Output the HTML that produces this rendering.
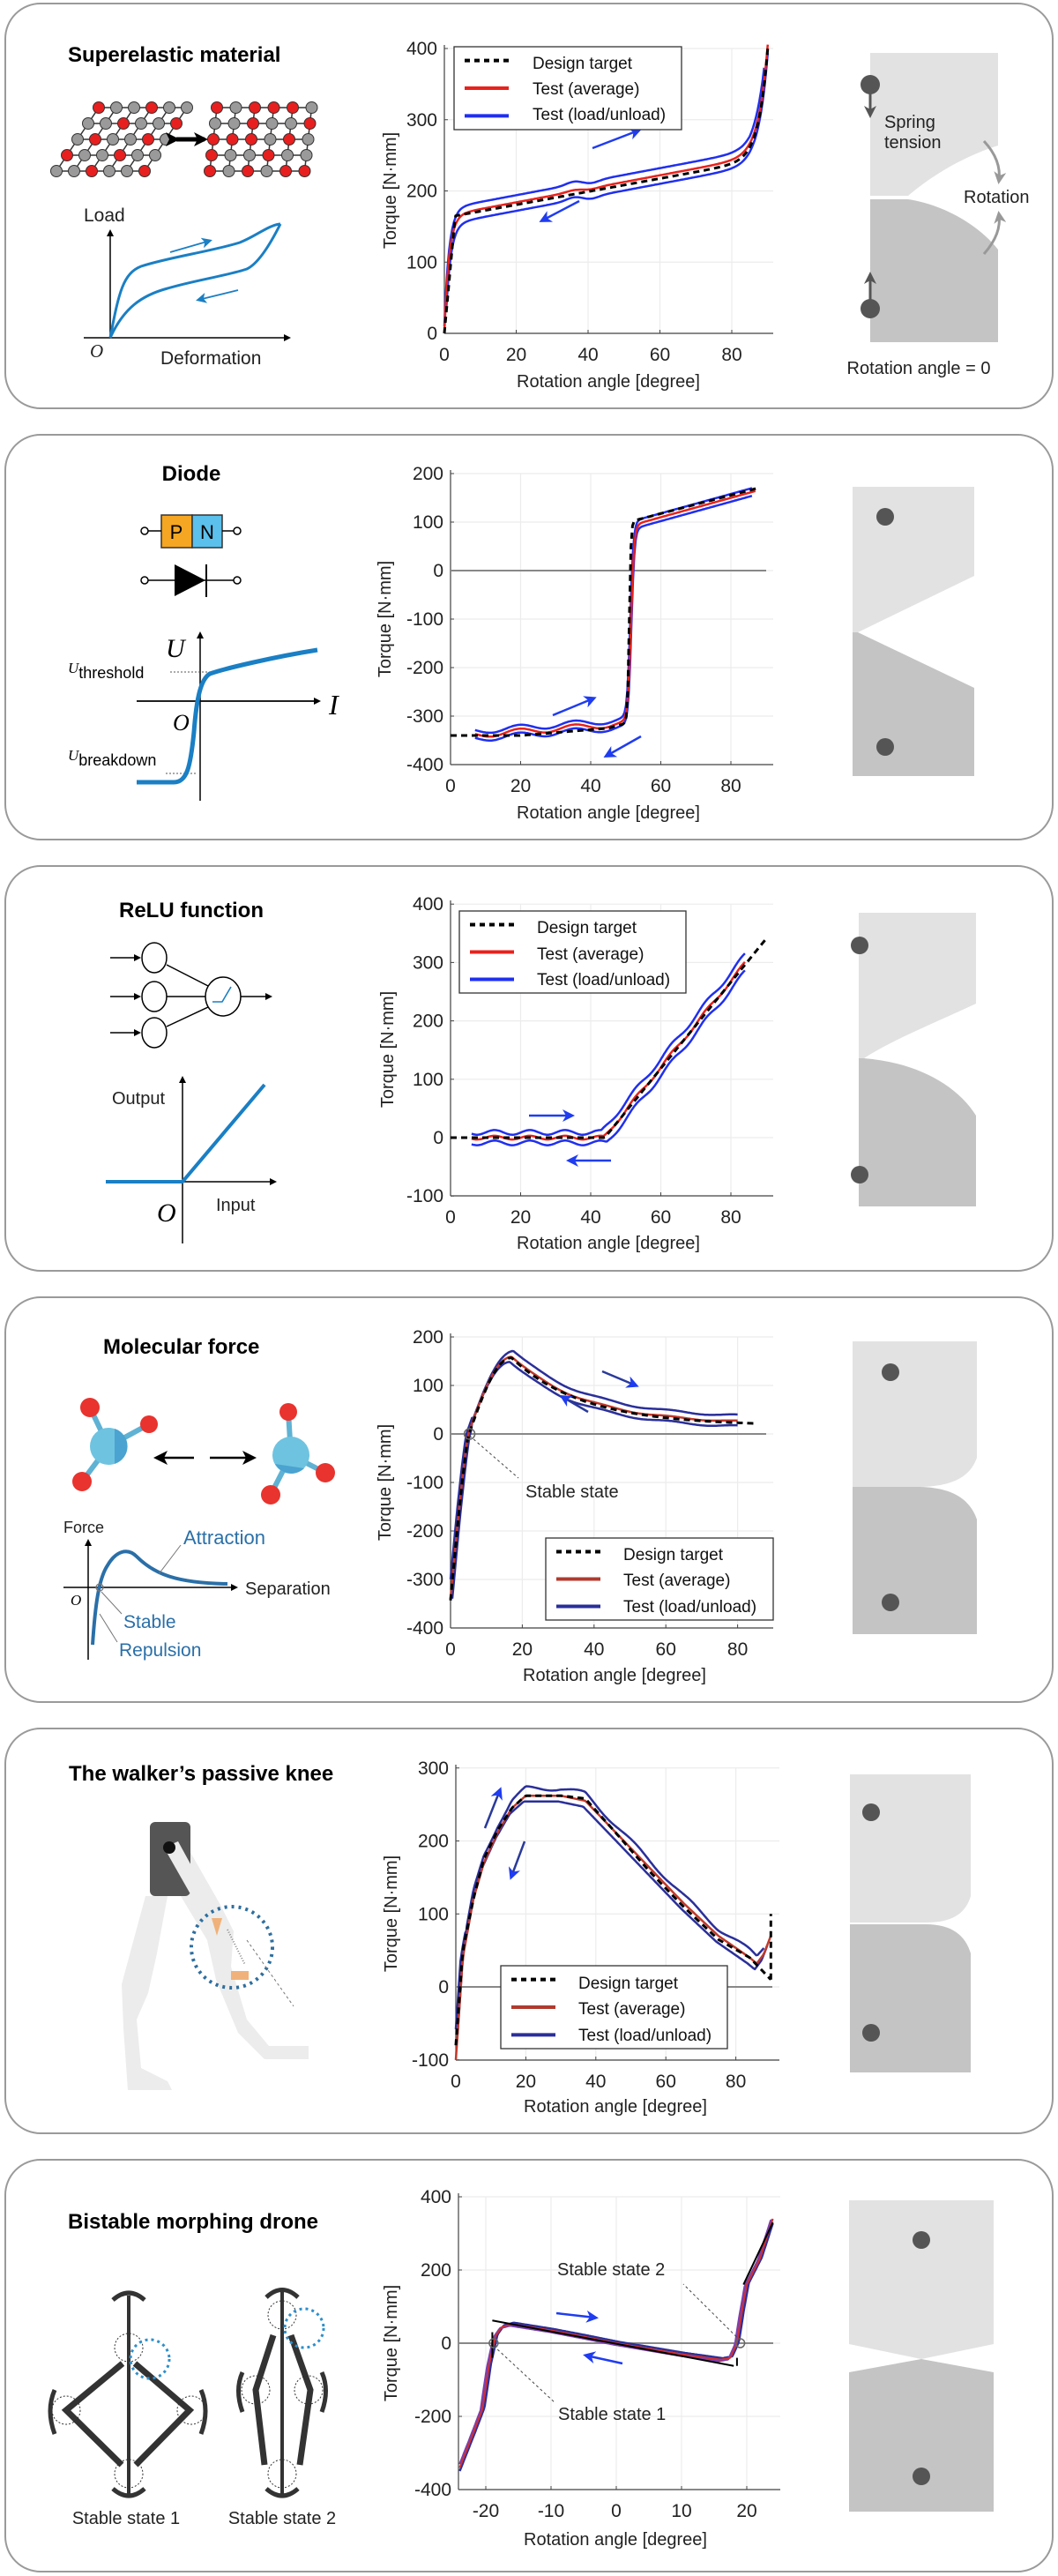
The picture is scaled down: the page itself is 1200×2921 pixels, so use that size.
<!DOCTYPE html>
<html><head><meta charset="utf-8">
<style>
html,body{margin:0;padding:0;background:#fff;}
svg{display:block;}
text{font-family:"Liberation Sans",Arial,sans-serif;}
.t{font-weight:bold;font-size:24px;fill:#000;}
.tk{font-size:21px;fill:#222;}
.lb{font-size:20px;fill:#222;}
.lg{font-size:19px;fill:#111;}
.grid line{stroke:#ececec;stroke-width:1.2;}
</style></head><body>
<svg id="s" width="1200" height="2921" viewBox="0 0 1200 2921" xmlns="http://www.w3.org/2000/svg">
<defs>
<marker id="ab" markerWidth="8" markerHeight="8" refX="6" refY="4" orient="auto" markerUnits="userSpaceOnUse"><path d="M0,0 L8,4 L0,8 Z" fill="#000"/></marker>
<marker id="abl" markerWidth="14" markerHeight="14" refX="10" refY="7" orient="auto" markerUnits="userSpaceOnUse"><path d="M0,0 L14,7 L0,14 L4,7 Z" fill="#1f3cf0"/></marker>
<marker id="ag" markerWidth="14" markerHeight="14" refX="10" refY="7" orient="auto" markerUnits="userSpaceOnUse"><path d="M0,0 L14,7 L0,14 L4,7 Z" fill="#999"/></marker>
<marker id="ad" markerWidth="14" markerHeight="14" refX="10" refY="7" orient="auto" markerUnits="userSpaceOnUse"><path d="M0,0 L14,7 L0,14 L4,7 Z" fill="#555"/></marker>
<marker id="ak" markerWidth="16" markerHeight="16" refX="12" refY="8" orient="auto" markerUnits="userSpaceOnUse"><path d="M0,0 L16,8 L0,16 L4,8 Z" fill="#000"/></marker>
<marker id="abu" markerWidth="12" markerHeight="12" refX="9" refY="6" orient="auto" markerUnits="userSpaceOnUse"><path d="M0,0 L12,6 L0,12 L3,6 Z" fill="#1a7fc4"/></marker>
</defs>

<g fill="#fff" stroke="#9a9a9a" stroke-width="2">
<rect x="6" y="4" width="1188" height="459" rx="40"/>
<rect x="6" y="493" width="1188" height="459" rx="40"/>
<rect x="6" y="982" width="1188" height="459" rx="40"/>
<rect x="6" y="1471" width="1188" height="459" rx="40"/>
<rect x="6" y="1960" width="1188" height="459" rx="40"/>
<rect x="6" y="2449" width="1188" height="467" rx="40"/>
</g>

<!-- P1 right -->
<path d="M987,60 H1132 V165 C1085,180 1050,205 1030,222 H987 Z" fill="#e2e2e2"/>
<path d="M987,226 H1030 C1070,232 1110,255 1132,283 V388 H987 Z" fill="#c4c4c4"/>
<circle cx="987" cy="96" r="11" fill="#555"/><line x1="987" y1="96" x2="987" y2="130" stroke="#555" stroke-width="3" marker-end="url(#ad)"/>
<circle cx="987" cy="350" r="11" fill="#555"/><line x1="987" y1="350" x2="987" y2="312" stroke="#555" stroke-width="3" marker-end="url(#ad)"/>
<text x="1003" y="145" class="lb">Spring</text>
<text x="1003" y="168" class="lb">tension</text>
<text x="1093" y="230" class="lb">Rotation</text>
<path d="M1116,160 C1130,175 1135,190 1133,205" fill="none" stroke="#999" stroke-width="3" marker-end="url(#ag)"/>
<path d="M1116,288 C1130,272 1135,258 1133,243" fill="none" stroke="#999" stroke-width="3" marker-end="url(#ag)"/>
<text x="1042" y="424" class="lb" text-anchor="middle">Rotation angle = 0</text>

<!-- P2 -->
<path d="M967,552 H1105 V653 L973,717 H967 Z" fill="#e2e2e2"/>
<path d="M967,717 H973 L1105,780 V880 H967 Z" fill="#c4c4c4"/>
<circle cx="1004" cy="586" r="10" fill="#555"/><circle cx="1004" cy="847" r="10" fill="#555"/>

<!-- P3 -->
<path d="M974,1035 H1107 V1138 C1060,1160 1010,1180 980,1200 H974 Z" fill="#e2e2e2"/>
<path d="M974,1200 H980 C1040,1205 1085,1230 1107,1265 V1368 H974 Z" fill="#c4c4c4"/>
<circle cx="975" cy="1072" r="10" fill="#555"/><circle cx="975" cy="1332" r="10" fill="#555"/>

<!-- P4 -->
<path d="M967,1521 H1108 V1653 C1100,1675 1080,1686 1040,1686 H967 Z" fill="#e2e2e2"/>
<path d="M967,1686 H1040 C1080,1686 1100,1700 1108,1723 V1853 H967 Z" fill="#c4c4c4"/>
<circle cx="1010" cy="1556" r="10" fill="#555"/><circle cx="1010" cy="1817" r="10" fill="#555"/>

<!-- P5 -->
<path d="M964,2012 H1101 V2150 C1095,2170 1080,2180 1050,2180 H964 Z" fill="#e2e2e2"/>
<path d="M964,2182 H1050 C1080,2182 1095,2195 1101,2215 V2350 H964 Z" fill="#c4c4c4"/>
<circle cx="988" cy="2055" r="10" fill="#555"/><circle cx="988" cy="2305" r="10" fill="#555"/>

<!-- P6 -->
<path d="M963,2495 H1127 V2658 L1045,2675 L963,2658 Z" fill="#e2e2e2"/>
<path d="M963,2690 L1045,2675 L1127,2690 V2848 H963 Z" fill="#c4c4c4"/>
<circle cx="1045" cy="2540" r="10" fill="#555"/><circle cx="1045" cy="2808" r="10" fill="#555"/>

<!-- P1 left -->
<text x="77" y="70" class="t">Superelastic material</text>
<g id="lat"></g>
<path d="M200,158 H232" stroke="#000" stroke-width="5" marker-end="url(#ak)" marker-start="url(#ak)"/>
<line x1="125" y1="383" x2="125" y2="262" stroke="#000" stroke-width="1.5" marker-end="url(#ab)"/>
<line x1="95" y1="383" x2="328" y2="383" stroke="#000" stroke-width="1.5" marker-end="url(#ab)"/>
<text x="95" y="251" class="lb" style="font-size:21px">Load</text>
<text x="102" y="405" class="lb" style="font-style:italic;font-family:'Liberation Serif',serif;font-size:21px">O</text>
<text x="182" y="413" class="lb" style="font-size:21px">Deformation</text>
<path d="M125,383 C135,330 140,310 160,302 C190,292 240,285 272,275 C290,268 305,255 318,254" fill="none" stroke="#1a7fc4" stroke-width="3"/>
<path d="M125,383 C140,350 160,335 190,327 C220,318 260,312 280,305 C295,298 310,270 318,254" fill="none" stroke="#1a7fc4" stroke-width="3"/>
<line x1="193" y1="286" x2="238" y2="273" stroke="#1a7fc4" stroke-width="1.8" marker-end="url(#abu)"/>
<line x1="270" y1="329" x2="225" y2="340" stroke="#1a7fc4" stroke-width="1.8" marker-end="url(#abu)"/>

<!-- P2 left -->
<text x="217" y="545" class="t" text-anchor="middle">Diode</text>
<rect x="183" y="584" width="35" height="37" fill="#f5a623" stroke="#333" stroke-width="1.5"/>
<rect x="218" y="584" width="34" height="37" fill="#5bc0eb" stroke="#333" stroke-width="1.5"/>
<text x="200" y="611" text-anchor="middle" style="font-size:22px">P</text>
<text x="235" y="611" text-anchor="middle" style="font-size:22px">N</text>
<line x1="167" y1="602" x2="183" y2="602" stroke="#000" stroke-width="1.5"/><line x1="252" y1="602" x2="265" y2="602" stroke="#000" stroke-width="1.5"/>
<circle cx="164" cy="602" r="4" fill="#fff" stroke="#000" stroke-width="1.5"/><circle cx="269" cy="602" r="4" fill="#fff" stroke="#000" stroke-width="1.5"/>
<line x1="167" y1="658" x2="265" y2="658" stroke="#000" stroke-width="1.5"/>
<path d="M198,640 L233,658 L198,676 Z" fill="#000"/><line x1="234" y1="640" x2="234" y2="677" stroke="#000" stroke-width="2"/>
<circle cx="164" cy="658" r="4" fill="#fff" stroke="#000" stroke-width="1.5"/><circle cx="269" cy="658" r="4" fill="#fff" stroke="#000" stroke-width="1.5"/>
<line x1="227" y1="908" x2="227" y2="718" stroke="#000" stroke-width="1.5" marker-end="url(#ab)"/>
<line x1="155" y1="795" x2="362" y2="795" stroke="#000" stroke-width="1.8" marker-end="url(#ab)"/>
<text x="188" y="745" style="font-family:'Liberation Serif',serif;font-style:italic;font-size:30px">U</text>
<text x="373" y="810" style="font-family:'Liberation Serif',serif;font-style:italic;font-size:32px">I</text>
<text x="196" y="828" style="font-family:'Liberation Serif',serif;font-style:italic;font-size:26px">O</text>
<text x="77" y="763" style="font-family:'Liberation Serif',serif;font-style:italic;font-size:17px">U<tspan style="font-family:'Liberation Sans',sans-serif;font-style:normal;font-size:18px" dy="6">threshold</tspan></text>
<text x="77" y="862" style="font-family:'Liberation Serif',serif;font-style:italic;font-size:17px">U<tspan style="font-family:'Liberation Sans',sans-serif;font-style:normal;font-size:18px" dy="6">breakdown</tspan></text>
<line x1="193" y1="762" x2="240" y2="762" stroke="#555" stroke-dasharray="2,2"/>
<line x1="188" y1="877" x2="222" y2="877" stroke="#555" stroke-dasharray="2,2"/>
<path d="M155,887 H197 C212,887 216,870 220,830 C223,790 228,770 238,764 C255,758 310,745 360,737" fill="none" stroke="#1a7fc4" stroke-width="5"/>

<!-- P3 left -->
<text x="217" y="1040" class="t" text-anchor="middle">ReLU function</text>
<g fill="#fff" stroke="#000" stroke-width="1.5">
<ellipse cx="175" cy="1086" rx="14" ry="17"/><ellipse cx="175" cy="1130" rx="14" ry="17"/><ellipse cx="175" cy="1171" rx="14" ry="17"/>
<ellipse cx="253" cy="1130" rx="20" ry="22"/>
</g>
<g stroke="#000" stroke-width="1.5">
<line x1="189" y1="1094" x2="236" y2="1118"/><line x1="189" y1="1130" x2="233" y2="1130"/><line x1="189" y1="1164" x2="236" y2="1142"/>
<line x1="125" y1="1086" x2="158" y2="1086" marker-end="url(#ab)"/><line x1="125" y1="1130" x2="158" y2="1130" marker-end="url(#ab)"/><line x1="125" y1="1171" x2="158" y2="1171" marker-end="url(#ab)"/>
<line x1="273" y1="1130" x2="307" y2="1130" marker-end="url(#ab)"/>
</g>
<path d="M241,1136 H252 L262,1119" fill="none" stroke="#1a7fc4" stroke-width="1.6"/>
<line x1="207" y1="1410" x2="207" y2="1222" stroke="#000" stroke-width="1.5" marker-end="url(#ab)"/>
<line x1="120" y1="1340" x2="312" y2="1340" stroke="#000" stroke-width="1.5" marker-end="url(#ab)"/>
<path d="M120,1340 H207 L300,1230" fill="none" stroke="#1a7fc4" stroke-width="4"/>
<text x="127" y="1252" class="lb">Output</text>
<text x="178" y="1385" style="font-family:'Liberation Serif',serif;font-style:italic;font-size:30px">O</text>
<text x="245" y="1373" class="lb">Input</text>

<!-- P4 left -->
<text x="117" y="1535" class="t">Molecular force</text>
<g stroke="#5fb2d3" stroke-width="6"><line x1="123" y1="1640" x2="102" y2="1596"/><line x1="123" y1="1640" x2="169" y2="1615"/><line x1="123" y1="1640" x2="93" y2="1680"/>
<line x1="330" y1="1650" x2="327" y2="1601"/><line x1="330" y1="1650" x2="369" y2="1670"/><line x1="330" y1="1650" x2="307" y2="1695"/></g>
<circle cx="123" cy="1640" r="21" fill="#6ec3e0"/><circle cx="330" cy="1650" r="21" fill="#6ec3e0"/>
<path d="M130,1620 A21,21 0 0 1 130,1660 Z" fill="#4aa3d0"/><path d="M312,1660 A21,21 0 0 0 345,1665 Z" fill="#4aa3d0"/>
<g fill="#e8332e"><circle cx="102" cy="1596" r="11"/><circle cx="169" cy="1615" r="10"/><circle cx="93" cy="1680" r="11"/><circle cx="327" cy="1601" r="10"/><circle cx="369" cy="1670" r="11"/><circle cx="307" cy="1695" r="11"/></g>
<line x1="220" y1="1653" x2="178" y2="1653" stroke="#000" stroke-width="2.5" marker-end="url(#ak)"/>
<line x1="238" y1="1653" x2="287" y2="1653" stroke="#000" stroke-width="2.5" marker-end="url(#ak)"/>
<line x1="100" y1="1882" x2="100" y2="1747" stroke="#000" stroke-width="1.5" marker-end="url(#ab)"/>
<line x1="72" y1="1800" x2="268" y2="1800" stroke="#000" stroke-width="1.5" marker-end="url(#ab)"/>
<path d="M105,1865 C108,1820 112,1790 122,1775 C132,1758 145,1755 155,1765 C175,1785 200,1795 258,1796" fill="none" stroke="#2a6fa8" stroke-width="4"/>
<circle cx="113" cy="1800" r="4" fill="none" stroke="#777" stroke-width="1.3"/>
<line x1="180" y1="1785" x2="205" y2="1752" stroke="#777" stroke-width="1"/>
<line x1="115" y1="1805" x2="138" y2="1830" stroke="#777" stroke-width="1"/>
<line x1="113" y1="1830" x2="133" y2="1862" stroke="#777" stroke-width="1"/>
<text x="72" y="1738" class="lb" style="font-size:18px">Force</text>
<text x="208" y="1751" style="font-size:22px;fill:#2a6fa8">Attraction</text>
<text x="278" y="1808" class="lb">Separation</text>
<text x="140" y="1846" style="font-size:21px;fill:#2a6fa8">Stable</text>
<text x="135" y="1878" style="font-size:21px;fill:#2a6fa8">Repulsion</text>
<text x="80" y="1820" style="font-family:'Liberation Serif',serif;font-style:italic;font-size:17px">O</text>

<!-- P5 left -->
<text x="78" y="2019" class="t">The walker’s passive knee</text>
<g fill="#ececec">
<path d="M165,2150 L190,2150 L178,2215 L168,2260 L155,2290 L160,2345 L190,2360 L195,2370 L145,2370 L140,2300 L138,2250 Z"/>
<path d="M185,2100 L210,2090 L250,2160 L265,2190 L262,2230 L280,2290 L305,2320 L350,2320 L350,2335 L300,2335 L270,2305 L245,2245 L235,2200 L205,2150 Z"/>
</g>
<rect x="170" y="2066" width="46" height="84" rx="6" fill="#555"/>
<path d="M186,2095 L240,2190 L255,2185 L202,2088 Z" fill="#ececec"/>
<circle cx="192" cy="2095" r="7" fill="#111"/>
<circle cx="263" cy="2208" r="46" fill="none" stroke="#2e6e9e" stroke-width="4" stroke-dasharray="3,5"/>
<path d="M240,2175 l12,0 l-6,20 Z" fill="#f0b27a"/><path d="M262,2235 l20,0 l0,10 l-20,0 Z" fill="#f0b27a"/>
<line x1="258" y1="2188" x2="278" y2="2228" stroke="#888" stroke-width="2" stroke-dasharray="1,2"/>
<line x1="280" y1="2200" x2="333" y2="2275" stroke="#777" stroke-width="1" stroke-dasharray="3,3"/>

<!-- P6 left -->
<text x="77" y="2527" class="t">Bistable morphing drone</text>
<g stroke="#333" fill="none">
<line x1="146" y1="2603" x2="146" y2="2828" stroke-width="4"/>
<path d="M128,2608 Q146,2592 164,2608" stroke-width="5"/>
<path d="M128,2822 Q146,2838 164,2822" stroke-width="5"/>
<path d="M139,2680 L75,2733 L138,2795 M153,2680 L215,2733 L154,2795" stroke-width="7"/>
<path d="M62,2710 Q52,2733 62,2760 M228,2710 Q238,2733 228,2760" stroke-width="5"/>
<line x1="320" y1="2598" x2="320" y2="2828" stroke-width="4"/>
<path d="M302,2605 Q320,2588 338,2605" stroke-width="5"/>
<path d="M302,2822 Q320,2838 338,2822" stroke-width="5"/>
<path d="M310,2648 L290,2710 L300,2795 M330,2648 L352,2710 L340,2795" stroke-width="7"/>
<path d="M275,2690 Q266,2710 275,2735 M365,2690 Q374,2710 365,2735" stroke-width="5"/>
</g>
<g fill="none" stroke="#333" stroke-width="1" stroke-dasharray="2,2">
<circle cx="146" cy="2662" r="16"/><circle cx="146" cy="2805" r="16"/><circle cx="75" cy="2733" r="16"/><circle cx="217" cy="2733" r="16"/>
<circle cx="320" cy="2625" r="16"/><circle cx="320" cy="2805" r="16"/><circle cx="290" cy="2710" r="16"/><circle cx="350" cy="2710" r="16"/>
</g>
<circle cx="170" cy="2675" r="22" fill="none" stroke="#2e8fcb" stroke-width="3" stroke-dasharray="3,4"/>
<circle cx="345" cy="2640" r="22" fill="none" stroke="#2e8fcb" stroke-width="3" stroke-dasharray="3,4"/>
<text x="143" y="2862" class="lb" text-anchor="middle">Stable state 1</text>
<text x="320" y="2862" class="lb" text-anchor="middle">Stable state 2</text>

<g id="charts"></g>

<g class="lb">
<text transform="translate(449,216) rotate(-90)" text-anchor="middle">Torque [N·mm]</text>
<text x="690" y="439" text-anchor="middle">Rotation angle [degree]</text>
<text transform="translate(443,702) rotate(-90)" text-anchor="middle">Torque [N·mm]</text>
<text x="690" y="928" text-anchor="middle">Rotation angle [degree]</text>
<text transform="translate(446,1190) rotate(-90)" text-anchor="middle">Torque [N·mm]</text>
<text x="690" y="1416" text-anchor="middle">Rotation angle [degree]</text>
<text transform="translate(443,1681) rotate(-90)" text-anchor="middle">Torque [N·mm]</text>
<text x="697" y="1906" text-anchor="middle">Rotation angle [degree]</text>
<text transform="translate(450,2170) rotate(-90)" text-anchor="middle">Torque [N·mm]</text>
<text x="698" y="2395" text-anchor="middle">Rotation angle [degree]</text>
<text transform="translate(450,2657) rotate(-90)" text-anchor="middle">Torque [N·mm]</text>
<text x="698" y="2886" text-anchor="middle">Rotation angle [degree]</text>
</g>
<g class="lg">
<text x="604" y="78">Design target</text><text x="604" y="107">Test (average)</text><text x="604" y="136">Test (load/unload)</text>
<text x="609" y="1058">Design target</text><text x="609" y="1088">Test (average)</text><text x="609" y="1117">Test (load/unload)</text>
<text x="707" y="1769">Design target</text><text x="707" y="1798">Test (average)</text><text x="707" y="1828">Test (load/unload)</text>
<text x="656" y="2255">Design target</text><text x="656" y="2284">Test (average)</text><text x="656" y="2314">Test (load/unload)</text>
</g>
<g class="lb">
<text x="596" y="1698">Stable state</text>
<text x="632" y="2580">Stable state 2</text>
<text x="633" y="2744">Stable state 1</text>
</g>
</svg>
<script>
(function(){
var G=document.getElementById("charts");
var h="";
function add(s){h+=s;}
function ch(c){
 var X=function(v){return c.x0+v*c.sx}, Y=function(v){return c.yz-v*c.sy};
 c.X=X;c.Y=Y;
 var s='<g class="grid">';
 c.xt.forEach(function(v){s+='<line x1="'+X(v)+'" y1="'+c.top+'" x2="'+X(v)+'" y2="'+c.bot+'"/>';});
 c.yt.forEach(function(v){s+='<line x1="'+c.left+'" y1="'+Y(v)+'" x2="'+c.right+'" y2="'+Y(v)+'"/>';});
 s+='</g>';
 s+='<line x1="'+c.left+'" y1="'+(c.top-4)+'" x2="'+c.left+'" y2="'+c.bot+'" stroke="#444" stroke-width="1.2"/>';
 s+='<line x1="'+c.left+'" y1="'+c.bot+'" x2="'+c.right+'" y2="'+c.bot+'" stroke="#444" stroke-width="1.2"/>';
 c.yt.forEach(function(v){s+='<line x1="'+c.left+'" y1="'+Y(v)+'" x2="'+(c.left+4)+'" y2="'+Y(v)+'" stroke="#444"/>';
  s+='<text class="tk" x="'+(c.left-8)+'" y="'+(Y(v)+7)+'" text-anchor="end">'+(v<0?'-'+(-v):v)+'</text>';});
 c.xt.forEach(function(v){s+='<line x1="'+X(v)+'" y1="'+c.bot+'" x2="'+X(v)+'" y2="'+(c.bot-4)+'" stroke="#444"/>';
  s+='<text class="tk" x="'+X(v)+'" y="'+(c.bot+31)+'" text-anchor="middle">'+(v<0?'-'+(-v):v)+'</text>';});
 if(c.zero) s+='<line x1="'+c.left+'" y1="'+Y(0)+'" x2="'+(c.right-8)+'" y2="'+Y(0)+'" stroke="#888" stroke-width="2"/>';
 add(s);
}
function pth(c,f,a,b,col,w,dash,n){
 n=n||200;var d="";
 for(var i=0;i<=n;i++){var x=a+(b-a)*i/n;var y=f(x);d+=(i?"L":"M")+c.X(x).toFixed(1)+","+c.Y(y).toFixed(1);}
 add('<path d="'+d+'" fill="none" stroke="'+col+'" stroke-width="'+w+'"'+(dash?' stroke-dasharray="'+dash+'"':'')+' stroke-linejoin="round"/>');
}
function pts(c,P){return function(x){
 for(var i=0;i<P.length-1;i++){if(x<=P[i+1][0]){var t=(x-P[i][0])/(P[i+1][0]-P[i][0]);return P[i][1]+(P[i+1][1]-P[i][1])*t;}}
 return P[P.length-1][1];};}
function arr(x1,y1,x2,y2,col){add('<line x1="'+x1+'" y1="'+y1+'" x2="'+x2+'" y2="'+y2+'" stroke="'+(col||"#1f3cf0")+'" stroke-width="2.5" marker-end="url(#abl)"/>');}
function legend(x,y,w,hh,blue,red){
 add('<rect x="'+x+'" y="'+y+'" width="'+w+'" height="'+hh+'" fill="#fff" stroke="#333" stroke-width="1.3"/>');
 var r=[y+hh/6,y+hh/2,y+5*hh/6];
 add('<line x1="'+(x+12)+'" y1="'+r[0]+'" x2="'+(x+62)+'" y2="'+r[0]+'" stroke="#000" stroke-width="4" stroke-dasharray="6,5"/>');
 add('<line x1="'+(x+12)+'" y1="'+r[1]+'" x2="'+(x+62)+'" y2="'+r[1]+'" stroke="'+red+'" stroke-width="4"/>');
 add('<line x1="'+(x+12)+'" y1="'+r[2]+'" x2="'+(x+62)+'" y2="'+r[2]+'" stroke="'+blue+'" stroke-width="4"/>');
}
var RED="#e8221c",BLU="#1f2ff0";
var c1={x0:504,sx:4.075,yz:378,sy:0.8075,left:504,right:877,top:55,bot:378,xt:[0,20,40,60,80],yt:[0,100,200,300,400]};
ch(c1);
var f1=function(x){return 165*(1-Math.exp(-x/1.3))+0.95*x+155*Math.exp((x-90)/2.5);};
var w1=function(x){return 4*Math.exp(-Math.pow((x-36)/3,2))-3*Math.exp(-Math.pow((x-41)/3,2));};
pth(c1,function(x){return f1(x)+10+w1(x)+(x>85?12:0)*(x-85)/5;},0,89,BLU,2.5);
pth(c1,function(x){return Math.max(0,f1(x)-12+w1(x)-12*Math.exp(-x/2));},0.5,90,BLU,2.5);
pth(c1,function(x){return f1(x)+w1(x)*0.5;},0,90,RED,2.5);
pth(c1,function(x){return x<3?165*x/3:165+(x-3)*0.92+155*Math.exp((x-90)/2.5);},0,90,"#000",3,"7,5");
arr(672,168,724,148);arr(657,228,615,250);
legend(515,53,258,94,BLU,RED);
var c2={x0:511,sx:3.975,yz:647,sy:0.55,left:511,right:877,top:537,bot:867,xt:[0,20,40,60,80],yt:[-400,-300,-200,-100,0,100,200],zero:1};
ch(c2);
var lo=function(x){return -340+(x-5)*0.55+6*Math.sin(x/2.5);}, hi=function(x){return 100+(x-55)*2.0;};
var f2=function(x,c,k){var s=0.5*(1+Math.tanh((x-c)/k));return lo(x)*(1-s)+hi(x)*s;};
pth(c2,function(x){return f2(x,51.3,0.9)+8;},7,86,BLU,2.5);
pth(c2,function(x){return f2(x,51.6,0.9)-8;},7,86,BLU,2.5);
pth(c2,function(x){return f2(x,51.5,0.9);},7,87,RED,2.5);
pth(c2,function(x){var l=x<45?-340+(x>20?(x-20)*0.6:0):-325+(x-45)*2;var hh=108+(x-55)*1.9;var s=0.5*(1+Math.tanh((x-51)/0.5));return l*(1-s)+hh*s;},0,88,"#000",3,"7,5");
arr(627,811,673,792);arr(727,835,688,857);
var c3={x0:511,sx:3.975,yz:1290,sy:0.662,left:511,right:877,top:1025,bot:1356,xt:[0,20,40,60,80],yt:[-100,0,100,200,300,400]};
ch(c3);
var f3=function(x){return x<43?0:7.4*(x-43);};
var wg=function(x){return 4*Math.sin(x/1.6);};
pth(c3,function(x){return f3(x)+9+wg(x);},6,84,BLU,2.5);
pth(c3,function(x){return f3(x-1.5)-9+wg(x);},6,84,BLU,2.5);
pth(c3,function(x){return f3(x-0.7)+wg(x)*0.8;},6,84,RED,2.5);
pth(c3,function(x){return f3(x-1);},0,90,"#000",3,"7,5");
arr(600,1265,648,1265);arr(693,1316,646,1316);
legend(521,1033,257,93,BLU,RED);
var c4={x0:511,sx:4.07,yz:1626,sy:0.55,left:511,right:877,top:1516,bot:1846,xt:[0,20,40,60,80],yt:[-400,-300,-200,-100,0,100,200],zero:1};
ch(c4);
var f4=function(x){if(x<5)return -340*Math.pow(1-x/5,1.2);if(x<17)return 160*Math.sin((x-5)/12*Math.PI/2);return 20+140*Math.exp(-(x-17)/20);};
var D4="#2a2f9a";
pth(c4,function(x){return f4(x-0.5)+(x>6?12:0)+2*Math.sin(x/3);},0.5,80,D4,2.5);
pth(c4,function(x){return f4(x+0.5)-(x>6?10:0)+2*Math.sin(x/3);},0,80,D4,2.5);
pth(c4,function(x){return f4(x)+1.5*Math.sin(x/3);},0,80,"#c0392b",2.5);
pth(c4,function(x){return f4(x)-3;},0,85,"#000",3,"7,5");
add('<circle cx="'+c4.X(5.3)+'" cy="1626" r="6" fill="none" stroke="#666" stroke-width="1.5"/>');
add('<line x1="'+c4.X(5.3)+'" y1="1628" x2="588" y2="1676" stroke="#444" stroke-dasharray="3,3"/>');
arr(683,1555,721,1571,"#2a3a9a");arr(667,1601,638,1584,"#2a3a9a");
legend(619,1744,258,93,D4,"#b03a2e");
var c5={x0:517,sx:3.97,yz:2253,sy:0.8275,left:517,right:884,top:2005,bot:2336,xt:[0,20,40,60,80],yt:[-100,0,100,200,300],zero:1};
ch(c5);
var P5=[[0,-100],[2,40],[5,120],[8,170],[12,212],[16,245],[20,262],[30,262],[37,255],[45,215],[55,165],[65,115],[75,70],[84,40],[86,32],[88,45],[90,70]];
var f5=pts(c5,P5);
pth(c5,function(x){return f5(x)+(x>3?10:0)+3*Math.sin(x/2.5);},0.5,88,D4,2.5);
pth(c5,function(x){return f5(x+0.6)-(x>3?8:0);},0,89,D4,2.5);
pth(c5,function(x){return f5(x);},0,90,"#c0392b",2.5);
pth(c5,pts(c5,[[0,-80],[2,50],[5,120],[8,175],[12,215],[16,245],[20,262],[30,262],[37,258],[45,215],[55,160],[65,110],[75,65],[84,40],[90,10]]),0,90,"#000",3,"7,5");
add('<line x1="'+c5.X(90)+'" y1="'+c5.Y(10)+'" x2="'+c5.X(90)+'" y2="'+c5.Y(100)+'" stroke="#000" stroke-width="3" stroke-dasharray="7,5"/>');
arr(550,2073,567,2030,"#2a3a9a");arr(595,2088,580,2128,"#2a3a9a");
legend(568,2229,257,94,D4,"#b03a2e");
var c6={x0:699,sx:7.4,yz:2657,sy:0.415,left:520,right:885,top:2491,bot:2823,xt:[-20,-10,0,10,20],yt:[-400,-200,0,200,400],zero:1};
ch(c6);
var P6=[[-24,-340],[-22,-250],[-20.5,-180],[-19.5,-60],[-18.5,20],[-17.5,45],[-16,52],[-10,35],[-5,18],[0,0],[5,-15],[10,-30],[16,-45],[17.5,-40],[18.5,0],[19.2,80],[20,160],[22,230],[24,340]];
var f6=pts(c6,P6);
pth(c6,function(x){return f6(x-0.3)+4;},-24,24,"#2a2f9a",2.5,null,300);
pth(c6,function(x){return f6(x+0.3)-4;},-24,24,"#7b3fb0",2.5,null,300);
pth(c6,function(x){return f6(x);},-24,24,"#d03030",2,null,300);
add('<line x1="'+c6.X(-19)+'" y1="'+c6.Y(62)+'" x2="'+c6.X(18)+'" y2="'+c6.Y(-62)+'" stroke="#000" stroke-width="2"/>');
add('<line x1="'+c6.X(-19)+'" y1="'+c6.Y(30)+'" x2="'+c6.X(-19)+'" y2="'+c6.Y(-40)+'" stroke="#000" stroke-width="2"/>');
add('<line x1="'+c6.X(18.5)+'" y1="'+c6.Y(-62)+'" x2="'+c6.X(18.5)+'" y2="'+c6.Y(-40)+'" stroke="#000" stroke-width="2"/>');
add('<line x1="'+c6.X(19.5)+'" y1="'+c6.Y(160)+'" x2="'+c6.X(24)+'" y2="'+c6.Y(330)+'" stroke="#000" stroke-width="2"/>');
add('<circle cx="'+c6.X(-18.8)+'" cy="2657" r="5" fill="none" stroke="#666" stroke-width="1.5"/><circle cx="'+c6.X(19)+'" cy="2657" r="5" fill="none" stroke="#666" stroke-width="1.5"/>');
add('<line x1="'+c6.X(-18.8)+'" y1="2660" x2="630" y2="2725" stroke="#444" stroke-dasharray="3,3"/>');
add('<line x1="'+c6.X(19)+'" y1="2654" x2="775" y2="2590" stroke="#444" stroke-dasharray="3,3"/>');
arr(631,2623,675,2628);arr(706,2680,665,2671);
G.innerHTML=h;
var L="";
function lat(ox,oy,dx,sh,alt){
 for(var r=0;r<5;r++){for(var k=0;k<6;k++){
  var x=ox+k*dx-r*sh, y=oy+r*18;
  if(k<5)L+='<line x1="'+x+'" y1="'+y+'" x2="'+(x+dx)+'" y2="'+y+'" stroke="#333" stroke-width="1.5"/>';
  if(r<4)L+='<line x1="'+x+'" y1="'+y+'" x2="'+(x-sh)+'" y2="'+(y+18)+'" stroke="#333" stroke-width="1.5"/>';
 }}
 for(var r=0;r<5;r++){for(var k=0;k<6;k++){
  var x=ox+k*dx-r*sh,y=oy+r*18;var red=alt?((k+r)%2==0&&k%2==0)||((k+r)%3==0):((k+r)%3==0);
  L+='<circle cx="'+x+'" cy="'+y+'" r="6.5" fill="'+(red?"#e81f1f":"#9a9a9a")+'" stroke="#333" stroke-width="1"/>';
 }}
}
lat(112,122,20,12,0);lat(246,122,21.5,2,1);
document.getElementById("lat").innerHTML=L;
})();
</script>
</body></html>
